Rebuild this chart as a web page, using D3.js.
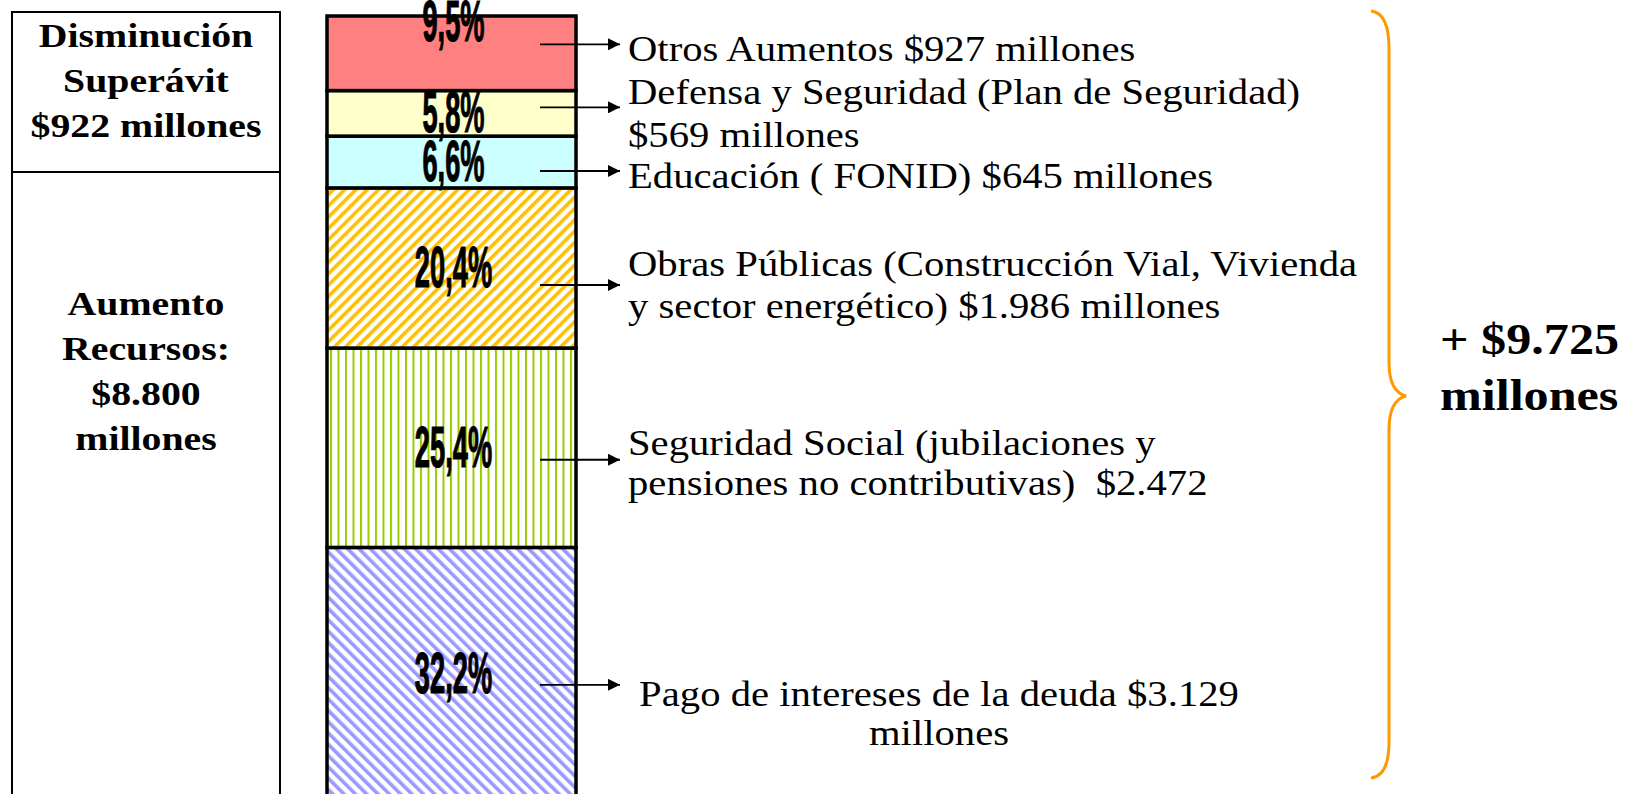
<!DOCTYPE html>
<html lang="es">
<head>
<meta charset="utf-8">
<script src="https://cdn.jsdelivr.net/npm/d3@7"></script>
<style>
  html, body { margin: 0; padding: 0; background: #fff; overflow: hidden; }
  svg { display: block; }
</style>
</head>
<body>
<div id="grafico"></div>
<script>
// Datos del gráfico (de abajo hacia arriba en la barra)
const segmentos = ['Pago de intereses', 'Seguridad Social', 'Obras Públicas', 'Educación', 'Defensa y Seguridad', 'Otros Aumentos'];
const porcentajes = [32.2, 25.4, 20.4, 6.6, 5.8, 9.5];
const etiquetasPct = ['32,2%', '25,4%', '20,4%', '6,6%', '5,8%', '9,5%'];
const textosSegmento = [
  ['Pago de intereses de la deuda $3.129', 'millones'],
  ['Seguridad Social (jubilaciones y', 'pensiones no contributivas)  $2.472'],
  ['Obras Públicas (Construcción Vial, Vivienda', 'y sector energético) $1.986 millones'],
  ['Educación ( FONID) $645 millones'],
  ['Defensa y Seguridad (Plan de Seguridad)', '$569 millones'],
  ['Otros Aumentos $927 millones']
];
const cajaSuperavit = ['Disminución', 'Superávit', '$922 millones'];
const cajaRecursos = ['Aumento', 'Recursos:', '$8.800', 'millones'];
const textoTotal = ['+ $9.725', 'millones'];

(function () {
  const W = 1647, H = 794;
  const SERIF = "'Liberation Serif', 'Times New Roman', serif";
  const SANS = "'Liberation Sans', Arial, sans-serif";

  const svg = d3.select('#grafico').append('svg')
    .attr('width', W).attr('height', H)
    .attr('viewBox', `0 0 ${W} ${H}`);

  // patrones de relleno
  const defs = svg.append('defs');
  function rayado(id, color, angulo, paso, ancho) {
    const p = defs.append('pattern')
      .attr('id', id).attr('patternUnits', 'userSpaceOnUse')
      .attr('width', paso).attr('height', paso)
      .attr('patternTransform', `rotate(${angulo})`);
    p.append('rect').attr('width', paso).attr('height', paso).attr('fill', '#fff');
    p.append('rect').attr('width', ancho).attr('height', paso).attr('fill', color);
  }
  rayado('p-azul', '#9999FF', -45, 8, 3.6);
  rayado('p-verde', '#99CC00', 0, 7.5, 2);
  rayado('p-naranja', '#FFC000', 45, 8, 3.6);

  const rellenos = ['url(#p-azul)', 'url(#p-verde)', 'url(#p-naranja)', '#CCFFFF', '#FFFFCC', '#FF8080'];

  // escala vertical: porcentaje acumulado desde la base
  const total = d3.sum(porcentajes);
  const pxPorPct = 7.85;
  const yTop = 16;
  const y = d3.scaleLinear().domain([0, total]).range([yTop + total * pxPorPct, yTop]);
  const x = d3.scaleBand().domain(['barra']).range([327, 576]).padding(0);

  const acumulado = [];
  porcentajes.reduce((a, v, i) => { acumulado[i] = [a, a + v]; return a + v; }, 0);

  const barra = svg.append('g');
  barra.selectAll('rect.seg')
    .data(porcentajes)
    .join('rect')
    .attr('class', 'seg')
    .attr('x', x('barra'))
    .attr('width', x.bandwidth())
    .attr('y', (d, i) => y(acumulado[i][1]))
    .attr('height', (d, i) => y(acumulado[i][0]) - y(acumulado[i][1]))
    .attr('fill', (d, i) => rellenos[i])
    .attr('stroke', '#000')
    .attr('stroke-width', 3.5);

  // etiquetas de porcentaje (fuente condensada)
  const ajusteEtiqueta = [0, 0, 0, 0, 0, -31];
  const xc = x('barra') + x.bandwidth() / 2 + 2;
  barra.selectAll('text.pct')
    .data(etiquetasPct)
    .join('text')
    .attr('class', 'pct')
    .attr('transform', (d, i) => {
      const yc = (y(acumulado[i][0]) + y(acumulado[i][1])) / 2 + ajusteEtiqueta[i];
      return `translate(${xc},${yc + 19}) scale(0.47,1)`;
    })
    .attr('text-anchor', 'middle')
    .attr('font-family', SANS)
    .attr('font-weight', 'bold')
    .attr('font-size', 58)
    .attr('fill', '#000')
    .attr('stroke', '#000')
    .attr('stroke-width', 1.2)
    .text(d => d);

  // flechas y textos explicativos
  defs.append('marker')
    .attr('id', 'punta').attr('viewBox', '0 0 10 10')
    .attr('refX', 10).attr('refY', 5)
    .attr('markerWidth', 14).attr('markerHeight', 12)
    .attr('markerUnits', 'userSpaceOnUse')
    .attr('orient', 'auto')
    .append('path').attr('d', 'M0,0 L10,5 L0,10 Z').attr('fill', '#000');

  const ajusteFlecha = [11, 12, 17, 9, -6, -9];
  const primeraLinea = [21, -5, -9, 17, -3, 17];
  const interlineado = [39, 40, 42, 42, 43, 42];
  const centrado = [true, false, false, false, false, false];
  const xFlecha0 = 540, xFlecha1 = 620, xTexto = 628, xCentro = 939;
  const escalaTexto = 1.13;

  const notas = svg.append('g');
  porcentajes.forEach((v, i) => {
    const yf = (y(acumulado[i][0]) + y(acumulado[i][1])) / 2 + ajusteFlecha[i];
    notas.append('line')
      .attr('x1', xFlecha0).attr('x2', xFlecha1)
      .attr('y1', yf).attr('y2', yf)
      .attr('stroke', '#000').attr('stroke-width', 1.8)
      .attr('marker-end', 'url(#punta)');
    textosSegmento[i].forEach((linea, j) => {
      const yb = yf + primeraLinea[i] + j * interlineado[i];
      notas.append('text')
        .attr('transform', `translate(${centrado[i] ? xCentro : xTexto},${yb}) scale(${escalaTexto},1)`)
        .attr('text-anchor', centrado[i] ? 'middle' : 'start')
        .attr('font-family', SERIF)
        .attr('font-size', 36)
        .attr('fill', '#000')
        .style('white-space', 'pre')
        .text(linea);
    });
  });

  // caja de la izquierda
  const caja = svg.append('g');
  caja.append('rect')
    .attr('x', 12).attr('y', 12).attr('width', 268).attr('height', 820)
    .attr('fill', 'none').attr('stroke', '#000').attr('stroke-width', 2);
  caja.append('line')
    .attr('x1', 12).attr('x2', 280).attr('y1', 172).attr('y2', 172)
    .attr('stroke', '#000').attr('stroke-width', 2);

  function bloqueNegrita(g, lineas, cx, y0, paso, tam, sx, anchor) {
    lineas.forEach((l, j) => {
      g.append('text')
        .attr('transform', `translate(${cx},${y0 + j * paso}) scale(${sx},1)`)
        .attr('text-anchor', anchor)
        .attr('font-family', SERIF)
        .attr('font-weight', 'bold')
        .attr('font-size', tam)
        .attr('fill', '#000')
        .text(l);
    });
  }
  bloqueNegrita(caja, cajaSuperavit, 146, 47, 45, 34, 1.17, 'middle');
  bloqueNegrita(caja, cajaRecursos, 146, 315, 45, 34, 1.17, 'middle');

  // llave y total
  svg.append('path')
    .attr('d', 'M1371,11 Q1389,13 1389,48 L1389,362 Q1389,392 1406,396 Q1389,400 1389,430 L1389,742 Q1389,776 1371,778')
    .attr('fill', 'none')
    .attr('stroke', '#FF9900')
    .attr('stroke-width', 3);
  bloqueNegrita(svg, textoTotal, 1440, 354, 56, 44, 1.14, 'start');
})();
</script>
</body>
</html>
